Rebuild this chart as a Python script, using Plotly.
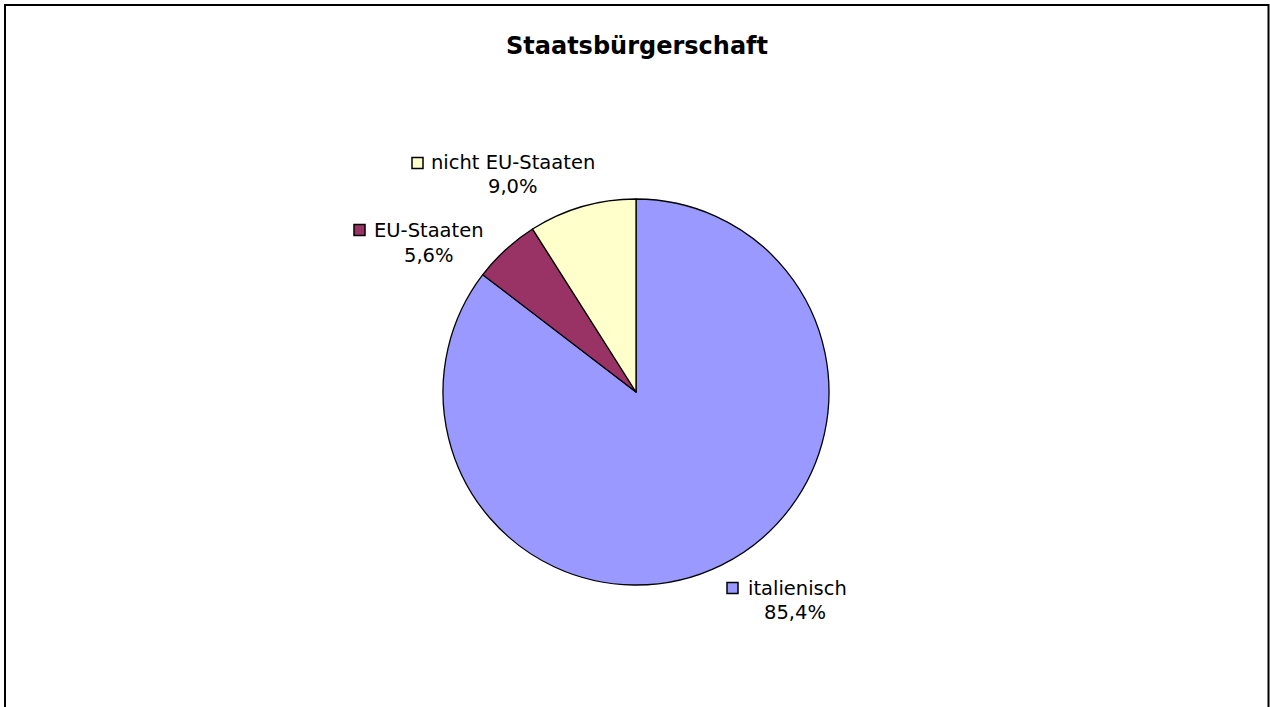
import plotly.graph_objects as go

# Data
categories = ["italienisch", "EU-Staaten", "nicht EU-Staaten"]
values = [85.4, 5.6, 9.0]
colors = ["#9999FF", "#993366", "#FFFFCC"]
title_text = "Staatsbürgerschaft"

W, H = 1270, 707
FONT = "DejaVu Sans, Verdana, sans-serif"

def px(x):
    return x / W

def py(y):
    return 1 - y / H

# pie geometry (pixels)
cx, cy, r = 636, 392, 193

fig = go.Figure(go.Pie(
    labels=categories,
    values=values,
    sort=False,
    direction="clockwise",
    rotation=0,
    marker=dict(colors=colors, line=dict(color="black", width=1.3)),
    textinfo="none",
    hoverinfo="label+percent",
    domain=dict(x=[px(cx - r), px(cx + r)], y=[py(cy + r), py(cy - r)]),
    showlegend=False,
))

# label layout: (key square x, key y center, text left x, line1 y, line2 center x, line2 y)
label_pos = {
    "nicht EU-Staaten": (412, 163, 429, 163, 513, 187),
    "EU-Staaten": (354, 230, 372, 230, 429, 255),
    "italienisch": (727, 588, 746, 588, 795, 612),
}

LBL = 19.5
annotations = []
shapes = []
for cat, val, col in zip(categories, values, colors):
    kx, ky, tx, t1y, c2x, t2y = label_pos[cat]
    shapes.append(dict(type="rect", xref="paper", yref="paper",
                       x0=px(kx), x1=px(kx + 11), y0=py(ky + 5.5), y1=py(ky - 5.5),
                       fillcolor=col, line=dict(color="black", width=1.5)))
    annotations.append(dict(text=cat, x=px(tx), y=py(t1y), xref="paper", yref="paper",
                            xanchor="left", yanchor="middle", showarrow=False,
                            font=dict(family=FONT, size=LBL, color="black")))
    annotations.append(dict(text=f"{val:.1f}".replace(".", ",") + "%", x=px(c2x), y=py(t2y),
                            xref="paper", yref="paper", xanchor="center", yanchor="middle",
                            showarrow=False, font=dict(family=FONT, size=LBL, color="black")))

annotations.append(dict(text=f"<b>{title_text}</b>", x=px(637), y=py(46), xref="paper", yref="paper",
                        xanchor="center", yanchor="middle", showarrow=False,
                        font=dict(family=FONT, size=24, color="black")))

# outer border
shapes.append(dict(type="rect", xref="paper", yref="paper",
                   x0=px(5), x1=px(1268.5), y0=-0.05, y1=py(5),
                   line=dict(color="black", width=2), fillcolor="rgba(0,0,0,0)"))

fig.update_layout(
    width=W, height=H,
    margin=dict(l=0, r=0, t=0, b=0),
    paper_bgcolor="white", plot_bgcolor="white",
    annotations=annotations, shapes=shapes,
)

fig.write_html("out.html")
